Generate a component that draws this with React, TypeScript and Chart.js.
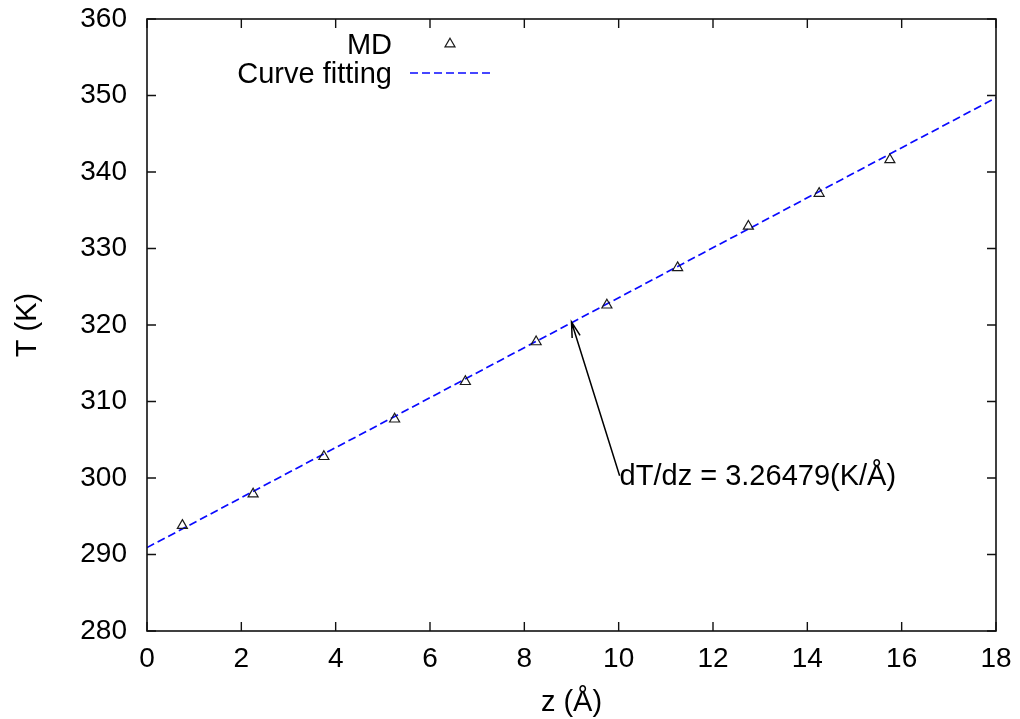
import React, { useEffect, useRef } from 'react';
import { Chart, registerables } from 'chart.js';

Chart.register(...registerables);

// ---- data ----
const mdZ = [0.75, 2.25, 3.75, 5.25, 6.75, 8.25, 9.75, 11.25, 12.75, 14.25, 15.75];
const mdT = [293.8, 297.9, 302.8, 307.7, 312.6, 317.8, 322.6, 327.5, 332.9, 337.2, 341.6];
const fitZ = [0, 18];
const fitT = [290.9, 349.7];
const xTickValues = [0, 2, 4, 6, 8, 10, 12, 14, 16, 18];
const yTickValues = [280, 290, 300, 310, 320, 330, 340, 350, 360];
const legendLabels = ['MD', 'Curve fitting'];
const annotationText = 'dT/dz = 3.26479(K/Å)';
const arrowTail = [10.02, 300.3];
const arrowHead = [9.0, 320.4];
const xTitle = 'z (Å)';
const yTitle = 'T (K)';

const FONT = '"Liberation Sans", Arial, Helvetica, sans-serif';
const LINE_BLUE = 'rgb(10,10,255)';
const MARK = '#1a1a1a';

const framePlugin = {
  id: 'gnuplotFrame',
  afterDraw(chart: any) {
    const ctx = chart.ctx;
    const { left, right, top, bottom } = chart.chartArea;
    const xs = chart.scales.x;
    const ys = chart.scales.y;
    ctx.save();
    // frame
    ctx.strokeStyle = '#111';
    ctx.lineWidth = 1.6;
    ctx.strokeRect(left, top, right - left, bottom - top);
    // inward ticks on all sides
    const tl = 9;
    ctx.lineWidth = 1.4;
    ctx.beginPath();
    xs.ticks.forEach((t: any) => {
      const px = xs.getPixelForValue(t.value);
      ctx.moveTo(px, bottom);
      ctx.lineTo(px, bottom - tl);
      ctx.moveTo(px, top);
      ctx.lineTo(px, top + tl);
    });
    ys.ticks.forEach((t: any) => {
      const py = ys.getPixelForValue(t.value);
      ctx.moveTo(left, py);
      ctx.lineTo(left + tl, py);
      ctx.moveTo(right, py);
      ctx.lineTo(right - tl, py);
    });
    ctx.stroke();

    // legend
    ctx.font = `29px ${FONT}`;
    ctx.fillStyle = '#000';
    ctx.textAlign = 'right';
    ctx.textBaseline = 'alphabetic';
    ctx.fillText(legendLabels[0], 392, 54);
    ctx.fillText(legendLabels[1], 392, 83);
    // legend triangle
    const r = 5.8;
    const cx = 450, cy = 44;
    ctx.strokeStyle = MARK;
    ctx.lineWidth = 1.2;
    ctx.beginPath();
    ctx.moveTo(cx, cy - r);
    ctx.lineTo(cx + r * Math.sin(Math.PI / 3), cy + r / 2);
    ctx.lineTo(cx - r * Math.sin(Math.PI / 3), cy + r / 2);
    ctx.closePath();
    ctx.stroke();
    // legend line
    ctx.strokeStyle = LINE_BLUE;
    ctx.lineWidth = 1.7;
    ctx.setLineDash([8, 4]);
    ctx.beginPath();
    ctx.moveTo(410, 73);
    ctx.lineTo(490, 73);
    ctx.stroke();
    ctx.setLineDash([]);

    // arrow
    const tx = xs.getPixelForValue(arrowTail[0]);
    const ty = ys.getPixelForValue(arrowTail[1]);
    const hx = xs.getPixelForValue(arrowHead[0]);
    const hy = ys.getPixelForValue(arrowHead[1]);
    ctx.strokeStyle = '#000';
    ctx.lineWidth = 1.5;
    ctx.beginPath();
    ctx.moveTo(tx, ty);
    ctx.lineTo(hx, hy);
    const ang = Math.atan2(hy - ty, hx - tx);
    const al = 16, aw = Math.PI / 12;
    ctx.moveTo(hx - al * Math.cos(ang - aw), hy - al * Math.sin(ang - aw));
    ctx.lineTo(hx, hy);
    ctx.lineTo(hx - al * Math.cos(ang + aw), hy - al * Math.sin(ang + aw));
    ctx.stroke();

    // annotation text
    ctx.textAlign = 'left';
    ctx.textBaseline = 'alphabetic';
    ctx.fillStyle = '#000';
    ctx.fillText(annotationText, tx, ty + 9);
    ctx.restore();
  },
};

export default function App() {
  const ref = useRef<HTMLCanvasElement>(null);
  useEffect(() => {
    document.body.style.margin = '0';
    const canvas = ref.current;
    if (!canvas) return;
    const chart = new Chart(canvas, {
      type: 'scatter',
      data: {
        datasets: [
          {
            label: legendLabels[1],
            data: fitZ.map((z, i) => ({ x: z, y: fitT[i] })),
            showLine: true,
            borderColor: LINE_BLUE,
            borderWidth: 1.7,
            borderDash: [8, 4],
            pointRadius: 0,
            fill: false,
            order: 2,
          },
          {
            label: legendLabels[0],
            data: mdZ.map((z, i) => ({ x: z, y: mdT[i] })),
            showLine: false,
            pointStyle: 'triangle',
            pointRadius: 5.8,
            pointBorderWidth: 1.2,
            borderColor: MARK,
            backgroundColor: 'rgba(0,0,0,0)',
            order: 1,
          },
        ],
      },
      options: {
        responsive: false,
        animation: false,
        layout: { padding: { top: 19, right: 24, left: 0, bottom: 0 } },
        plugins: { legend: { display: false }, tooltip: { enabled: false } },
        scales: {
          x: {
            type: 'linear',
            min: 0,
            max: 18,
            afterBuildTicks: (s: any) => {
              s.ticks = xTickValues.map((v) => ({ value: v }));
            },
            afterFit: (s: any) => {
              s.height = 88;
              s.paddingLeft = 0;
              s.paddingRight = 0;
            },
            grid: { display: false, drawTicks: false },
            border: { display: false },
            ticks: { padding: 11, color: '#000', font: { size: 28, family: FONT }, maxRotation: 0 },
            title: {
              display: true,
              text: xTitle,
              color: '#000',
              font: { size: 29, family: FONT, lineHeight: 1.1 },
              padding: { top: 0, bottom: 0 },
            },
          },
          y: {
            type: 'linear',
            min: 280,
            max: 360,
            afterBuildTicks: (s: any) => {
              s.ticks = yTickValues.map((v) => ({ value: v }));
            },
            afterFit: (s: any) => {
              s.width = 147;
              s.paddingTop = 0;
              s.paddingBottom = 0;
            },
            grid: { display: false, drawTicks: false },
            border: { display: false },
            ticks: { padding: 20, color: '#000', font: { size: 28, family: FONT } },
            title: {
              display: true,
              text: yTitle,
              color: '#000',
              font: { size: 29, family: FONT, lineHeight: 1.1 },
              padding: { top: 12, bottom: 0 },
            },
          },
        },
      },
      plugins: [framePlugin],
    });
    return () => chart.destroy();
  }, []);
  return <canvas ref={ref} width={1020} height={719} style={{ display: 'block' }} />;
}
